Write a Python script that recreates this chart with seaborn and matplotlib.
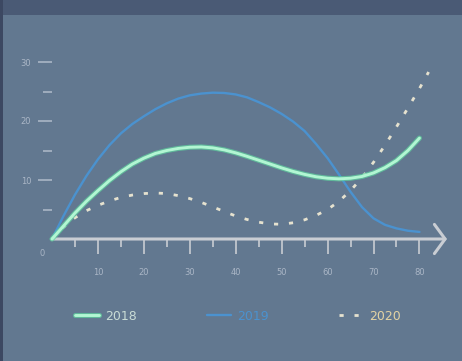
import matplotlib
matplotlib.use("Agg")
import matplotlib.pyplot as plt
import matplotlib.patheffects as pe
from matplotlib.patches import Rectangle
import seaborn as sns
import pandas as pd

# Series values
x_vals = [0, 2.5, 5, 7.5, 10, 12.5, 15, 17.5, 20, 22.5, 25, 27.5, 30, 32.5, 35, 37.5, 40,
          42.5, 45, 47.5, 50, 52.5, 55, 57.5, 60, 62.5, 65, 67.5, 70, 72.5, 75, 77.5, 80]
y_2018 = [0, 2.2, 4.4, 6.4, 8.2, 9.9, 11.4, 12.7, 13.7, 14.5, 15.0, 15.35, 15.55, 15.6, 15.45, 15.1, 14.6,
          14.0, 13.35, 12.7, 12.05, 11.45, 10.95, 10.55, 10.3, 10.2, 10.3, 10.6, 11.2, 12.1, 13.3, 15.0, 17.1]
y_2019 = [0, 3.9, 7.5, 10.7, 13.5, 15.9, 17.9, 19.5, 20.8, 22.0, 23.0, 23.8, 24.35, 24.65, 24.8, 24.75, 24.5,
          24.0, 23.2, 22.3, 21.2, 19.9, 18.3, 16.1, 13.7, 10.9, 8.0, 5.4, 3.5, 2.4, 1.8, 1.4, 1.2]
x_2020 = x_vals + [82]
y_2020 = [0, 2.0, 3.6, 4.8, 5.7, 6.45, 7.05, 7.45, 7.7, 7.8, 7.7, 7.35, 6.85, 6.2, 5.45, 4.65, 3.9,
          3.3, 2.85, 2.55, 2.5, 2.75, 3.25, 4.0, 5.0, 6.4, 8.2, 10.4, 13.0, 15.9, 19.0, 22.2, 25.5, 28.3]

x_ticks = [10, 20, 30, 40, 50, 60, 70, 80]
y_ticks = [10, 20, 30]
series_names = ["2018", "2019", "2020"]

BG = "#627890"
AXIS = "#c9cdd3"
FAINT = "#aab6c6"
C18 = "#b2f6d3"
C19 = "#4b92cf"
C20 = "#e6e2cf"

sns.set_theme(style="white")
plt.rcParams["font.family"] = ["Liberation Sans Narrow", "DejaVu Sans"]

fig = plt.figure(figsize=(4.62, 3.61), dpi=100, facecolor=BG)
# dark header band and left edge
fig.patches.append(Rectangle((0, 1 - 15 / 361), 1, 15 / 361, transform=fig.transFigure,
                             facecolor="#4a5a75", edgecolor="none", zorder=0))
fig.patches.append(Rectangle((0, 0), 3 / 462, 1, transform=fig.transFigure,
                             facecolor="#3c4862", edgecolor="none", zorder=0))

ax = fig.add_axes([52 / 462, 1 - 239 / 361, 395 / 462, 34 * 5.9 / 361])
ax.set_facecolor("none")

df18 = pd.DataFrame({"x": x_vals, "y": y_2018})
df19 = pd.DataFrame({"x": x_vals, "y": y_2019})
df20 = pd.DataFrame({"x": x_2020, "y": y_2020})

sns.lineplot(data=df19, x="x", y="y", ax=ax, color=C19, lw=1.7,
             estimator=None, sort=False, label=series_names[1], clip_on=False, zorder=3,
             solid_capstyle="round", solid_joinstyle="round")
sns.lineplot(data=df18, x="x", y="y", ax=ax, color=C18, lw=2.1,
             estimator=None, sort=False, label=series_names[0], clip_on=False, zorder=4,
             solid_capstyle="round", solid_joinstyle="round",
             path_effects=[pe.Stroke(linewidth=3.7, foreground="#5fd39f", alpha=0.7), pe.Normal()])
sns.lineplot(data=df20, x="x", y="y", ax=ax, color=C20, lw=2.0,
             estimator=None, sort=False, label=series_names[2], clip_on=False, zorder=3,
             dash_capstyle="butt")
ax.lines[-1].set_dashes((1.5, 3.9))

ax.set_xlim(0, 86)
ax.set_ylim(0, 34)
ax.set_xlabel("")
ax.set_ylabel("")
for s in ax.spines.values():
    s.set_visible(False)

# x axis with arrow head
ax.annotate("", xy=(1, 0), xytext=(0, 0), xycoords="axes fraction",
            arrowprops=dict(arrowstyle="->,head_length=0.55,head_width=0.75",
                            lw=2.2, color=AXIS, mutation_scale=14, shrinkA=0, shrinkB=0),
            zorder=2)

ax.set_xticks(x_ticks)
ax.set_xticklabels([str(v) for v in x_ticks])
ax.set_xticks([v - 5 for v in x_ticks], minor=True)
ax.set_yticks(y_ticks)
ax.set_yticklabels([str(v) for v in y_ticks])
ax.set_yticks([5, 15, 25], minor=True)

ax.tick_params(axis="x", which="major", direction="out", length=11, width=1.2,
               color=AXIS, pad=10, labelsize=6, labelcolor=FAINT, bottom=True)
ax.tick_params(axis="x", which="minor", direction="out", length=6, width=1.2,
               color=AXIS, bottom=True)
ax.tick_params(axis="y", which="major", direction="out", length=10, width=1.2,
               color=FAINT, pad=5, labelsize=6, labelcolor=FAINT, left=True)
ax.tick_params(axis="y", which="minor", direction="out", length=6.5, width=1.2,
               color=FAINT, left=True)
ax.annotate("0", xy=(0, 0), xytext=(-10, -14), textcoords="offset pixels",
            ha="center", va="center", fontsize=6, color=FAINT, annotation_clip=False)

# legend below the plot
handles, labels = ax.get_legend_handles_labels()
order = [labels.index(n) for n in series_names]
handles = [handles[i] for i in order]
ax.legend_.remove()
leg = fig.legend(handles, series_names, loc="center", bbox_to_anchor=(0.515, 1 - 316 / 361),
                 ncol=3, frameon=False, fontsize=9, handlelength=1.9, handletextpad=0.5,
                 columnspacing=5.6)
for t, c in zip(leg.get_texts(), ["#c9dcd6", C19, "#e3d3a4"]):
    t.set_color(c)

fig.savefig("out.png", dpi=100, facecolor=BG)
